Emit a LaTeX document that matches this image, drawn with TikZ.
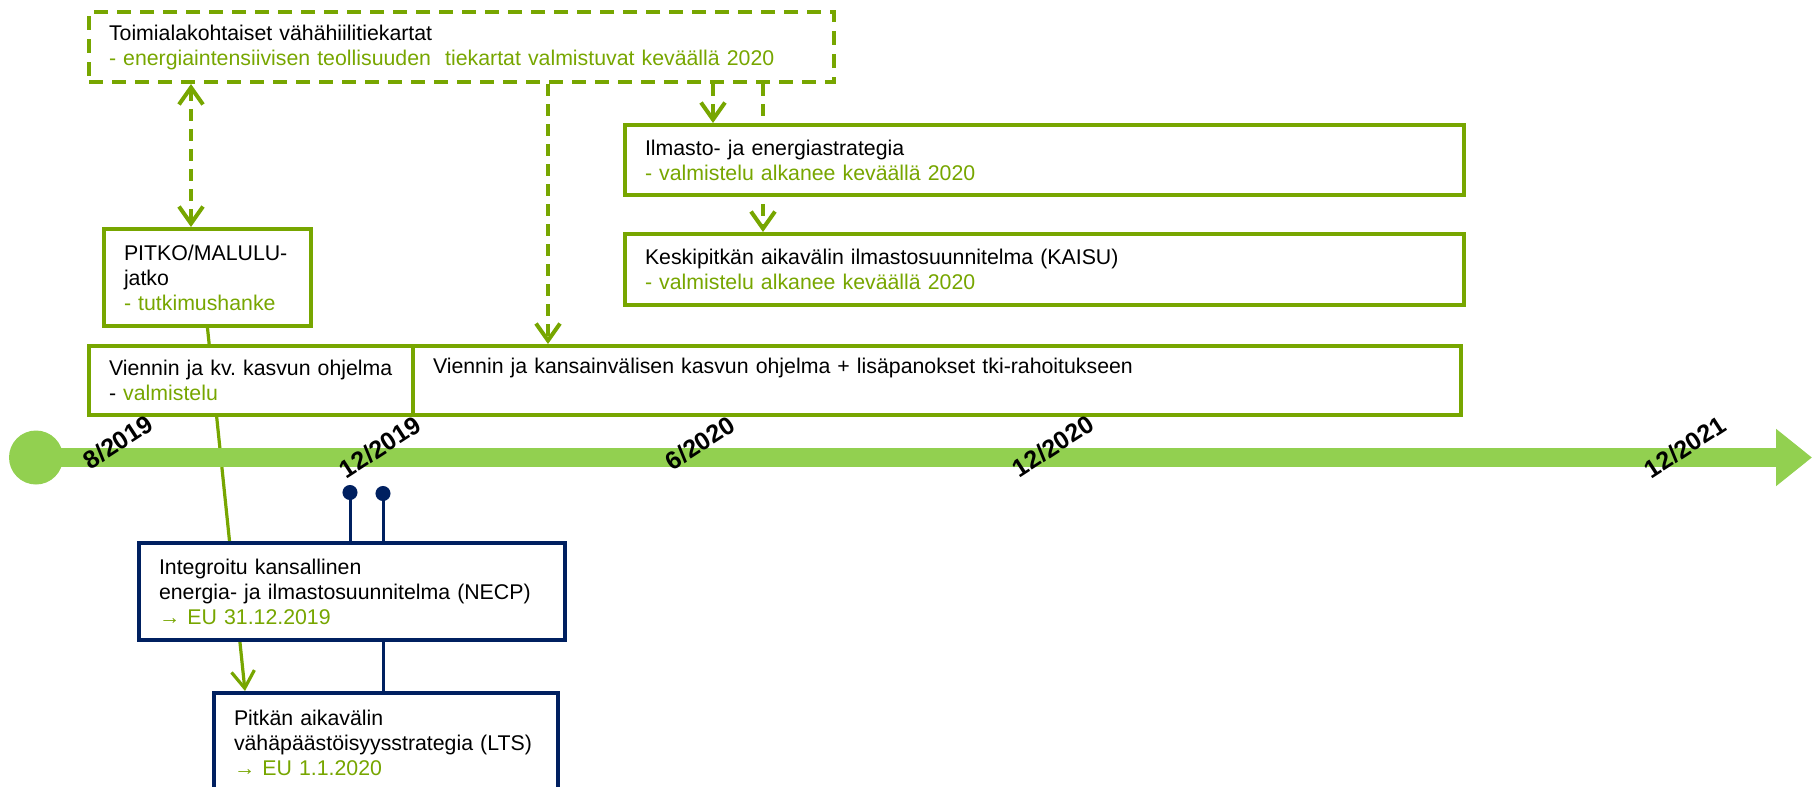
\documentclass[tikz,border=0pt]{standalone}
\usepackage{fontspec}
\setmainfont{Liberation Sans}
\usepackage{tikz}
\usetikzlibrary{arrows.meta,backgrounds}
\definecolor{dfgreen}{RGB}{119,166,0}
\definecolor{dflime}{RGB}{146,208,80}
\definecolor{dfnavy}{RGB}{0,32,96}
\tikzstyle{greenbox} = [rectangle, anchor=north west, align=left, inner xsep=10pt, draw=dfgreen, fill=white, line width=2pt]
\tikzstyle{navybox} = [rectangle, anchor=north west, align=left, inner xsep=10pt, draw=dfnavy, fill=white, line width=2pt]
\tikzstyle{roadbox} = [rectangle, anchor=north west, align=left, inner xsep=10pt, draw=dfgreen, line width=2pt, dash pattern=on 7pt off 4.5pt]
\tikzstyle{dasharrow} = [->, >={Straight Barb[length=8.5pt,width=12pt]}, draw=dfgreen, line width=2pt, dash pattern=on 6pt off 4pt]
\tikzstyle{greenarrow} = [->, >={Straight Barb[length=8.5pt,width=11.5pt]}, draw=dfgreen, line width=1.6pt]
\tikzstyle{navylink} = [{Circle[length=7.5pt]}-, draw=dfnavy, line width=1.5pt]
\tikzstyle{timeline} = [-{Triangle[length=18pt,width=27.5pt]}, draw=dflime, line width=9.25pt]
\tikzstyle{datelabel} = [font=\bfseries\fontsize{12.5}{12.5}\selectfont, rotate=33, inner sep=0pt]

\begin{document}
\begin{tikzpicture}[x=0.5pt, y=-0.5pt, every node/.style={font=\fontsize{10.65}{12.5}\selectfont}]
\useasboundingbox (0,0) rectangle (1812,787);
\clip (0,0) rectangle (1812,787);

% Timeline
\coordinate (tstart) at (36,457.5);
\coordinate (tend) at (1812,457.5);
\fill[dflime] (tstart) circle (13.5pt);
\draw[timeline] (tstart) -- (tend);

% Roadmaps and programmes
\node[roadbox, text width=352.5pt, minimum height=35pt] (roadmap) at (87,10) {Toimialakohtaiset vähähiilitiekartat\\\textcolor{dfgreen}{- energiaintensiivisen teollisuuden\ \ tiekartat valmistuvat keväällä 2020}};
\node[greenbox, text width=83.5pt, minimum height=48.5pt] (pitko) at (102,227) {PITKO/MALULU-\\jatko\\\textcolor{dfgreen}{- tutkimushanke}};
\node[greenbox, text width=142pt, minimum height=34.5pt] (vkv) at (87,344) {Viennin ja kv.\ kasvun ohjelma\\- \textcolor{dfgreen}{valmistelu}};
\node[greenbox, text width=504pt, minimum height=34.5pt, text depth=14.7pt] (vkasv) at (411,344) {Viennin ja kansainvälisen kasvun ohjelma + lisäpanokset tki-rahoitukseen};
\node[greenbox, text width=399.5pt, minimum height=35pt] (ilmasto) at (623,123) {Ilmasto- ja energiastrategia\\\textcolor{dfgreen}{- valmistelu alkanee keväällä 2020}};
\node[greenbox, text width=399.5pt, minimum height=35.5pt] (kaisu) at (623,232) {Keskipitkän aikavälin ilmastosuunnitelma (KAISU)\\\textcolor{dfgreen}{- valmistelu alkanee keväällä 2020}};

% EU plans
\node[navybox, text width=193pt, minimum height=48.5pt] (necp) at (137,541) {Integroitu kansallinen\\energia- ja ilmastosuunnitelma (NECP)\\\textcolor{dfgreen}{→ EU 31.12.2019}};
\node[navybox, text width=152pt, minimum height=50pt] (lts) at (212,691) {Pitkän aikavälin\\vähäpäästöisyysstrategia (LTS)\\\textcolor{dfgreen}{→ EU 1.1.2020}};

% Dates
\node[datelabel] (aug19) at (118,442) {8/2019};
\node[datelabel] (dec19) at (380,447) {12/2019};
\node[datelabel] (jun20) at (700,443) {6/2020};
\node[datelabel] (dec20) at (1053,446) {12/2020};
\node[datelabel] (dec21) at (1685,447) {12/2021};

% Deadlines
\coordinate (dot1) at (350,485);
\coordinate (dot2) at (383,486);

% Connections
\draw[dasharrow, <->] ([xshift=52pt]roadmap.south west) -- ([xshift=44.5pt]pitko.north west);
\draw[dasharrow] ([xshift=230.5pt]roadmap.south west) -- ([xshift=68.5pt]vkasv.north west);
\draw[dasharrow] ([xshift=313pt]roadmap.south west) -- ([xshift=45pt]ilmasto.north west);
\draw[navylink] (dot1) -- (necp.north -| dot1);
\begin{scope}[on background layer]
\draw[dasharrow] ([xshift=338pt]roadmap.south west) -- ([xshift=70pt]kaisu.north west);
\draw[greenarrow] (pitko.south) -- ([xshift=16.5pt]lts.north west);
\draw[navylink] (dot2) -- (lts.north -| dot2);
\end{scope}
\end{tikzpicture}
\end{document}
